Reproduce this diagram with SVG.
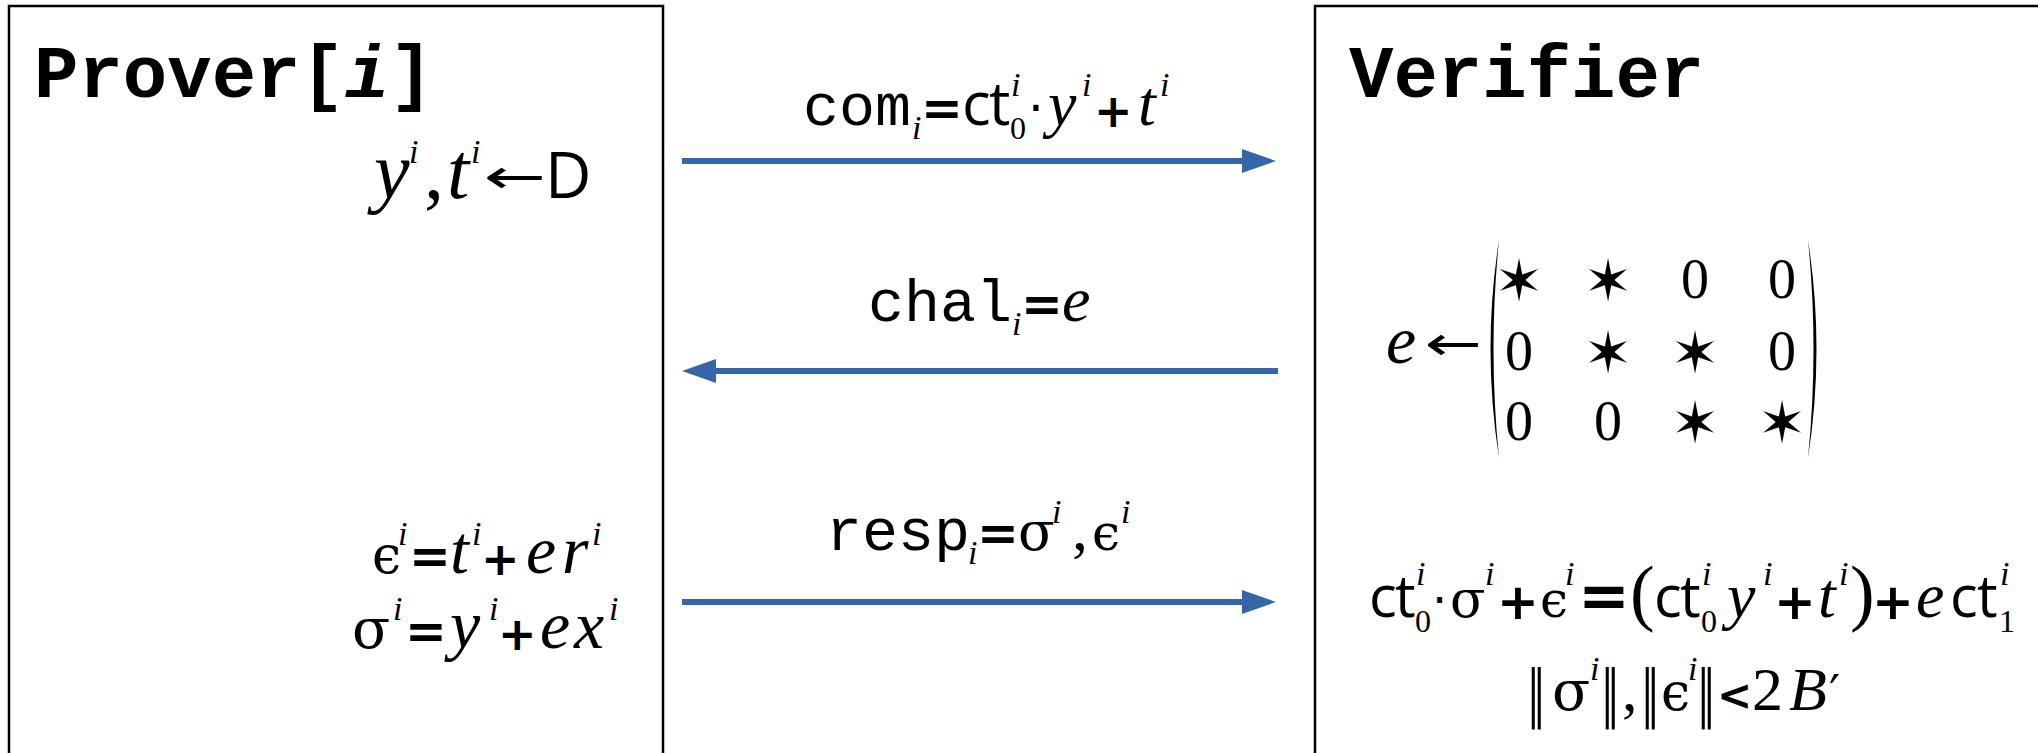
<svg xmlns="http://www.w3.org/2000/svg" width="2038" height="753" viewBox="0 0 2038 753">
<style>
.box{fill:#fff;stroke:#000;stroke-width:2.5}
.hdr{font-family:"Courier New","Liberation Mono",monospace;font-weight:bold;font-size:74px;fill:#000}
.cm{font-family:"Courier New","Liberation Mono",monospace;font-size:60px}
.v{font-family:"Liberation Serif",serif;font-style:italic}
.g{font-family:"DejaVu Serif",serif}
.u{font-family:"Open Sans",sans-serif}
.op{font-family:"DejaVu Sans",sans-serif}
.la{font-family:"DejaVu Sans",sans-serif;font-size:48px}
.nm{font-family:"DejaVu Sans",sans-serif;font-size:62px}
.pl{font-family:"DejaVu Sans",sans-serif;font-weight:bold}
.sp{font-family:"Liberation Serif",serif;font-style:italic;font-size:34px}
.sb{font-family:"Liberation Serif",serif;font-size:32px}
.n{font-family:"Liberation Serif",serif}
text{fill:#000}
.star{font-family:"DejaVu Sans",sans-serif;font-size:58px;text-anchor:middle}
.zero{font-family:"Liberation Serif",serif;font-size:56px;text-anchor:middle}
.arr{stroke:#3567a8;stroke-width:6;fill:none}
</style>
<defs>
<marker id="ah" viewBox="0 0 34 24" refX="4" refY="12" markerWidth="34" markerHeight="24" markerUnits="userSpaceOnUse" orient="auto">
<path d="M0,0 L34,12 L0,24 Z" fill="#3567a8"/>
</marker>
</defs>
<rect width="2038" height="753" fill="#fff"/>

<g id="prover">
<rect class="box" x="9" y="6" width="654" height="800"/>
<text class="hdr" x="34" y="97">Prover[<tspan font-style="italic">i</tspan>]</text>
<text font-size="80"><tspan class="v" x="374" y="198">y</tspan><tspan class="sp" x="409" y="163">i</tspan><tspan class="n" x="424" y="198">,</tspan><tspan class="v" x="447" y="198">t</tspan><tspan class="sp" x="471" y="163">i</tspan><tspan class="u" x="545" y="198" font-size="64">D</tspan></text>
<text class="la" transform="translate(484,193) scale(1.55,1)">←</text>
<text font-size="68"><tspan class="g" x="372" y="573" font-size="52">ϵ</tspan><tspan class="sp" x="398" y="545" font-size="32">i</tspan><tspan class="pl" x="409" y="573" font-size="50">=</tspan><tspan class="v" x="450" y="573">t</tspan><tspan class="sp" x="472" y="545" font-size="32">i</tspan><tspan class="pl" x="481" y="575" font-size="46">+</tspan><tspan class="v" x="526" y="573">e</tspan><tspan class="v" x="562" y="573">r</tspan><tspan class="sp" x="592" y="545" font-size="32">i</tspan></text>
<text font-size="68"><tspan class="g" x="352" y="648" font-size="56">σ</tspan><tspan class="sp" x="393" y="620" font-size="32">i</tspan><tspan class="pl" x="405" y="648" font-size="50">=</tspan><tspan class="v" x="450" y="648">y</tspan><tspan class="sp" x="489" y="620" font-size="32">i</tspan><tspan class="pl" x="498" y="650" font-size="46">+</tspan><tspan class="v" x="540" y="648">e</tspan><tspan class="v" x="574" y="648">x</tspan><tspan class="sp" x="609" y="620" font-size="32">i</tspan></text>
</g>

<g id="verifier">
<rect class="box" x="1315" y="6" width="800" height="800"/>
<text class="hdr" x="1349" y="97">Verifier</text>
<text class="v" x="1386" y="363" font-size="68">e</text>
<text class="la" transform="translate(1425,360) scale(1.42,1)">←</text>
<path d="M1499,240 Q1482,349 1499,458 Q1488,349 1499,240 Z" fill="#000"/>
<path d="M1808,240 Q1825,349 1808,458 Q1819,349 1808,240 Z" fill="#000"/>
<text class="star" x="1519" y="301">✶</text>
<text class="star" x="1608" y="301">✶</text>
<text class="zero" x="1695" y="298">0</text>
<text class="zero" x="1782" y="298">0</text>
<text class="zero" x="1519" y="370">0</text>
<text class="star" x="1608" y="373">✶</text>
<text class="star" x="1695" y="373">✶</text>
<text class="zero" x="1782" y="370">0</text>
<text class="zero" x="1519" y="440">0</text>
<text class="zero" x="1608" y="440">0</text>
<text class="star" x="1695" y="443">✶</text>
<text class="star" x="1782" y="443">✶</text>
<text font-size="64"><tspan class="u" x="1369" y="617" font-size="58">c</tspan><tspan class="u" x="1395" y="617" font-size="58">t</tspan><tspan class="sp" x="1416" y="585">i</tspan><tspan class="sb" x="1415" y="632">0</tspan><tspan class="op" x="1432" y="617" font-size="48">·</tspan><tspan class="g" x="1450" y="617" font-size="52">σ</tspan><tspan class="sp" x="1485" y="585">i</tspan><tspan class="pl" x="1497" y="619" font-size="50">+</tspan><tspan class="g" x="1540" y="617" font-size="50">ϵ</tspan><tspan class="sp" x="1565" y="585">i</tspan><tspan class="pl" x="1578" y="617" font-size="62">=</tspan><tspan class="n" x="1630" y="617" font-size="74">(</tspan><tspan class="u" x="1654" y="617" font-size="58">c</tspan><tspan class="u" x="1680" y="617" font-size="58">t</tspan><tspan class="sp" x="1702" y="585">i</tspan><tspan class="sb" x="1701" y="632">0</tspan><tspan class="v" x="1727" y="617">y</tspan><tspan class="sp" x="1763" y="585">i</tspan><tspan class="pl" x="1774" y="619" font-size="50">+</tspan><tspan class="v" x="1818" y="617">t</tspan><tspan class="sp" x="1839" y="585">i</tspan><tspan class="n" x="1850" y="617" font-size="74">)</tspan><tspan class="pl" x="1872" y="619" font-size="50">+</tspan><tspan class="v" x="1916" y="617">e</tspan><tspan class="u" x="1950" y="617" font-size="58">c</tspan><tspan class="u" x="1977" y="617" font-size="58">t</tspan><tspan class="sp" x="2000" y="585">i</tspan><tspan class="sb" x="1999" y="632">1</tspan></text>
<text class="nm" transform="translate(1527,714) scale(0.6,1)">‖</text>
<text class="nm" transform="translate(1601,714) scale(0.6,1)">‖</text>
<text class="nm" transform="translate(1641,714) scale(0.6,1)">‖</text>
<text class="nm" transform="translate(1697,714) scale(0.6,1)">‖</text>
<text font-size="62"><tspan class="g" x="1552" y="710" font-size="56">σ</tspan><tspan class="sp" x="1590" y="680">i</tspan><tspan class="n" x="1622" y="710">,</tspan><tspan class="g" x="1661" y="710" font-size="52">ϵ</tspan><tspan class="sp" x="1688" y="680">i</tspan><tspan class="pl" x="1717" y="710" font-size="42">&lt;</tspan><tspan class="n" x="1752" y="710">2</tspan><tspan class="v" x="1789" y="710">B</tspan><tspan class="op" x="1829" y="710" font-size="50">′</tspan></text>
</g>

<g id="connectors">
<line class="arr" x1="682" y1="161" x2="1246" y2="161" marker-end="url(#ah)"/>
<line class="arr" x1="1278" y1="371" x2="712" y2="371" marker-end="url(#ah)"/>
<line class="arr" x1="682" y1="602" x2="1246" y2="602" marker-end="url(#ah)"/>
<text font-size="64"><tspan class="cm" x="803" y="125">com</tspan><tspan class="sp" x="912" y="139" font-size="32">i</tspan><tspan class="pl" x="921" y="125" font-size="50">=</tspan><tspan class="u" x="962" y="125" font-size="60">c</tspan><tspan class="u" x="989" y="125" font-size="60">t</tspan><tspan class="sp" x="1011" y="96" font-size="32">i</tspan><tspan class="sb" x="1010" y="139">0</tspan><tspan class="op" x="1028" y="125" font-size="50">·</tspan><tspan class="v" x="1048" y="125">y</tspan><tspan class="sp" x="1082" y="96" font-size="32">i</tspan><tspan class="pl" x="1094" y="127" font-size="46">+</tspan><tspan class="v" x="1138" y="125">t</tspan><tspan class="sp" x="1160" y="96" font-size="32">i</tspan></text>
<text font-size="64"><tspan class="cm" x="868" y="321">chal</tspan><tspan class="sp" x="1012" y="335" font-size="32">i</tspan><tspan class="pl" x="1021" y="321" font-size="50">=</tspan><tspan class="v" x="1062" y="321">e</tspan></text>
<text font-size="64"><tspan class="cm" x="826" y="550">resp</tspan><tspan class="sp" x="968" y="564" font-size="32">i</tspan><tspan class="pl" x="977" y="550" font-size="50">=</tspan><tspan class="g" x="1018" y="550" font-size="54">σ</tspan><tspan class="sp" x="1052" y="523" font-size="32">i</tspan><tspan class="n" x="1072" y="550">,</tspan><tspan class="g" x="1092" y="550" font-size="50">ϵ</tspan><tspan class="sp" x="1121" y="523" font-size="32">i</tspan></text>
</g>
</svg>
